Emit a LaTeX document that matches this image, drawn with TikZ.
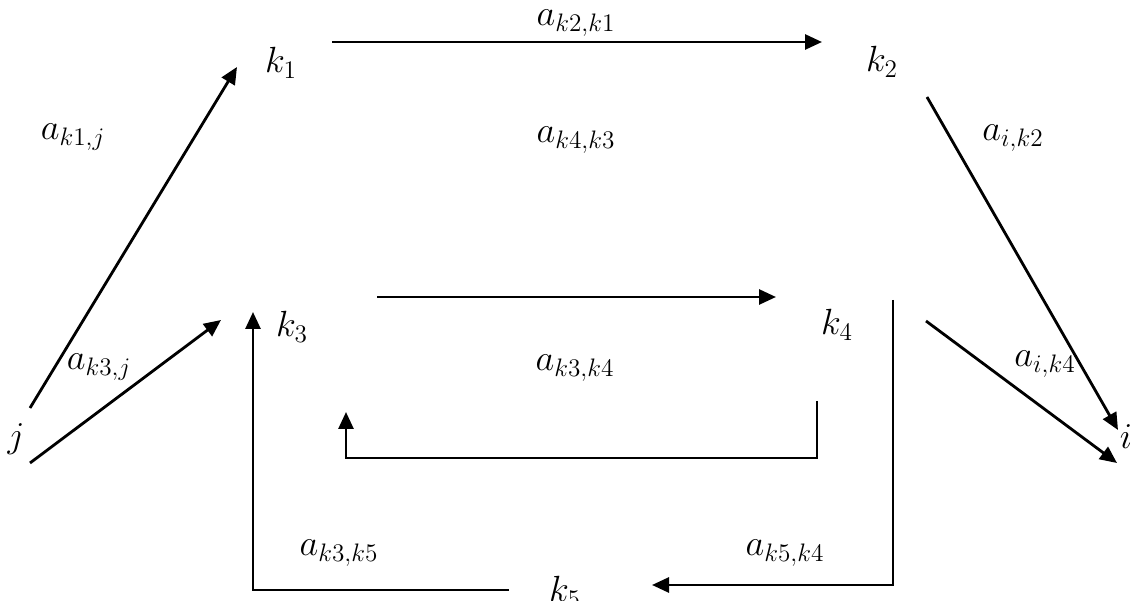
\documentclass[tikz,border=0pt]{standalone}
\usetikzlibrary{arrows.meta}
\begin{document}
\begin{tikzpicture}[x=0.02cm, y=-0.02cm,
  font=\fontsize{21}{25}\selectfont,
  lbl/.style={inner sep=1pt},
  arr/.style={-{Triangle[length=3.4mm,width=3mm]}, line width=1.6pt},
]
\useasboundingbox (0,0) rectangle (1134,601);

% vertices
\node[lbl] (j)  at (16,439)  {$j$};
\node[lbl] (k1) at (281,63)  {$k_1$};
\node[lbl] (k2) at (882,62)  {$k_2$};
\node[lbl] (k3) at (292,327) {$k_3$};
\node[lbl] (k4) at (837,325) {$k_4$};
\node[lbl] (k5) at (565,592) {$k_5$};
\node[lbl] (i)  at (1126,437) {$i$};

% weights
\node[lbl] (wk2k1) at (576,23)   {$a_{k2,k1}$};
\node[lbl] (wk4k3) at (576,140)  {$a_{k4,k3}$};
\node[lbl] (wk1j)  at (73,137)   {$a_{k1,j}$};
\node[lbl] (wik2)  at (1013,138) {$a_{i,k2}$};
\node[lbl] (wk3j)  at (99,367)   {$a_{k3,j}$};
\node[lbl] (wk3k4) at (575,368)  {$a_{k3,k4}$};
\node[lbl] (wik4)  at (1045,364) {$a_{i,k4}$};
\node[lbl] (wk3k5) at (339,553)  {$a_{k3,k5}$};
\node[lbl] (wk5k4) at (785,553)  {$a_{k5,k4}$};

% arrow ends
\coordinate (jtop)   at (30,408);
\coordinate (jbot)   at (30,463);
\coordinate (k1in)   at (237,67);
\coordinate (k1out)  at (332,42);
\coordinate (k2in)   at (822,42);
\coordinate (k2out)  at (927,97);
\coordinate (k3in)   at (221,320);
\coordinate (k3out)  at (377,297);
\coordinate (k3up)   at (253,312);
\coordinate (k3back) at (346,412);
\coordinate (k4in)   at (776,297);
\coordinate (k4out)  at (926,321);
\coordinate (k4back) at (817,401);
\coordinate (k4down) at (893,300);
\coordinate (k5in)   at (652,585);
\coordinate (k5out)  at (509,590);
\coordinate (itop)   at (1118,430);
\coordinate (ibot)   at (1117,463);

\draw[arr] (jtop) -- (k1in);
\draw[arr] (jbot) -- (k3in);
\draw[arr] (k1out) -- (k2in);
\draw[arr] (k2out) -- (itop);
\draw[arr] (k3out) -- (k4in);
\draw[arr] (k4out) -- (ibot);
\draw[arr] (k4back) -- (k4back |- 0,458) -| (k3back);
\draw[arr] (k4down) |- (k5in);
\draw[arr] (k5out) -| (k3up);
\end{tikzpicture}
\end{document}
